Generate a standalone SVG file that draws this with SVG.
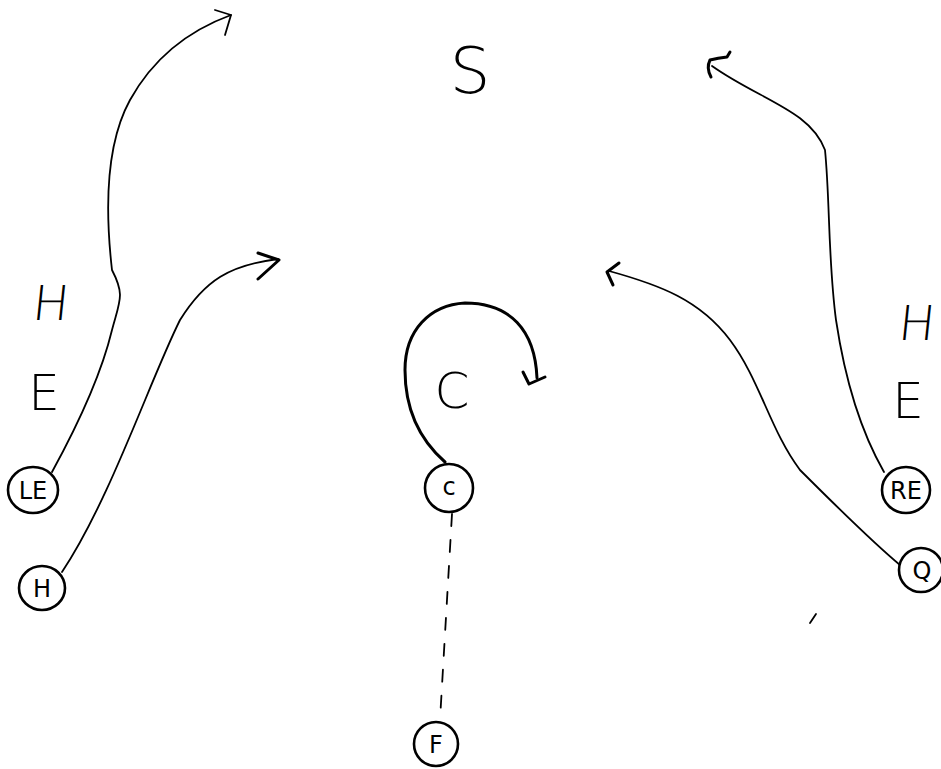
<svg xmlns="http://www.w3.org/2000/svg" width="941" height="769" viewBox="0 0 941 769">
<style>
.bg{fill:#fff}
.nd{fill:#fff;stroke:#000;stroke-width:2.6}
.nl{font-family:"DejaVu Sans",sans-serif;font-size:24px;fill:#000;text-anchor:middle}
.big{font-family:"DejaVu Sans",sans-serif;font-weight:200;fill:#000;text-anchor:middle}
.c{fill:none;stroke:#000;stroke-width:1.8;stroke-linecap:round;stroke-linejoin:round}
.ck{fill:none;stroke:#000;stroke-width:3;stroke-linecap:round;stroke-linejoin:round}
</style>
<rect class="bg" x="0" y="0" width="941" height="769"/>
<g id="labels">
<text class="big" x="50" y="320" font-size="48" transform="skewX(-6) translate(33,0)">H</text>
<text class="big" x="44" y="410" font-size="50">E</text>
<text class="big" x="916" y="340" font-size="48" transform="skewX(-6) translate(35,0)">H</text>
<text class="big" x="908" y="418" font-size="50">E</text>
<text class="big" x="470" y="93" font-size="64">S</text>
<text class="big" x="452" y="408" font-size="50">C</text>
</g>
<g id="connectors">
<path class="c" d="M52,472 C75,430 100,380 112,330 C120,300 125,295 112,270 C104,200 108,140 130,100 C155,55 190,30 231,15"/>
<path class="c" d="M215,10 L231,15 L225,35" stroke-width="2.4"/>
<path class="c" d="M62,572 C110,500 150,380 180,320 C205,280 230,265 278,259"/>
<path class="ck" d="M258,253 L279,260 L258,279"/>
<path class="c" d="M884,472 C860,430 845,380 836,320 C828,260 830,200 825,150 C810,110 760,100 712,66" stroke-width="2.2"/>
<path class="ck" d="M730,52 L727,57 Q718,58 710,60 Q706,68 711,77"/>
<path class="c" d="M900,565 C870,540 830,500 800,470 C770,430 760,380 730,340 C700,300 660,285 609,271"/>
<path class="ck" d="M619,263 L607,272 L613,285"/>
<path class="ck" d="M445,462 C420,440 405,410 405,370 C405,330 430,305 465,303 C510,303 535,330 537,378"/>
<path class="ck" d="M523,372 L529,384 L545,377"/>
<path class="c" d="M452,514 L440,720" stroke-dasharray="12 14" stroke-width="2.2"/>
<path class="c" d="M810,623 L816,614" stroke-width="1.5"/>
</g>
<g id="node-LE"><ellipse class="nd" cx="33" cy="490" rx="25" ry="23"/><text class="nl" x="33" y="499">LE</text></g>
<g id="node-H"><ellipse class="nd" cx="42" cy="588" rx="23" ry="22"/><text class="nl" x="42" y="597">H</text></g>
<g id="node-C"><ellipse class="nd" cx="449" cy="488" rx="24" ry="24"/><text class="nl" x="449" y="495">c</text></g>
<g id="node-F"><ellipse class="nd" cx="436" cy="744" rx="22" ry="22"/><text class="nl" x="436" y="753">F</text></g>
<g id="node-RE"><ellipse class="nd" cx="906" cy="490" rx="24" ry="23"/><text class="nl" x="906" y="499">RE</text></g>
<g id="node-Q"><ellipse class="nd" cx="921" cy="570" rx="22" ry="22"/><text class="nl" x="922" y="579">Q</text></g>
</svg>
